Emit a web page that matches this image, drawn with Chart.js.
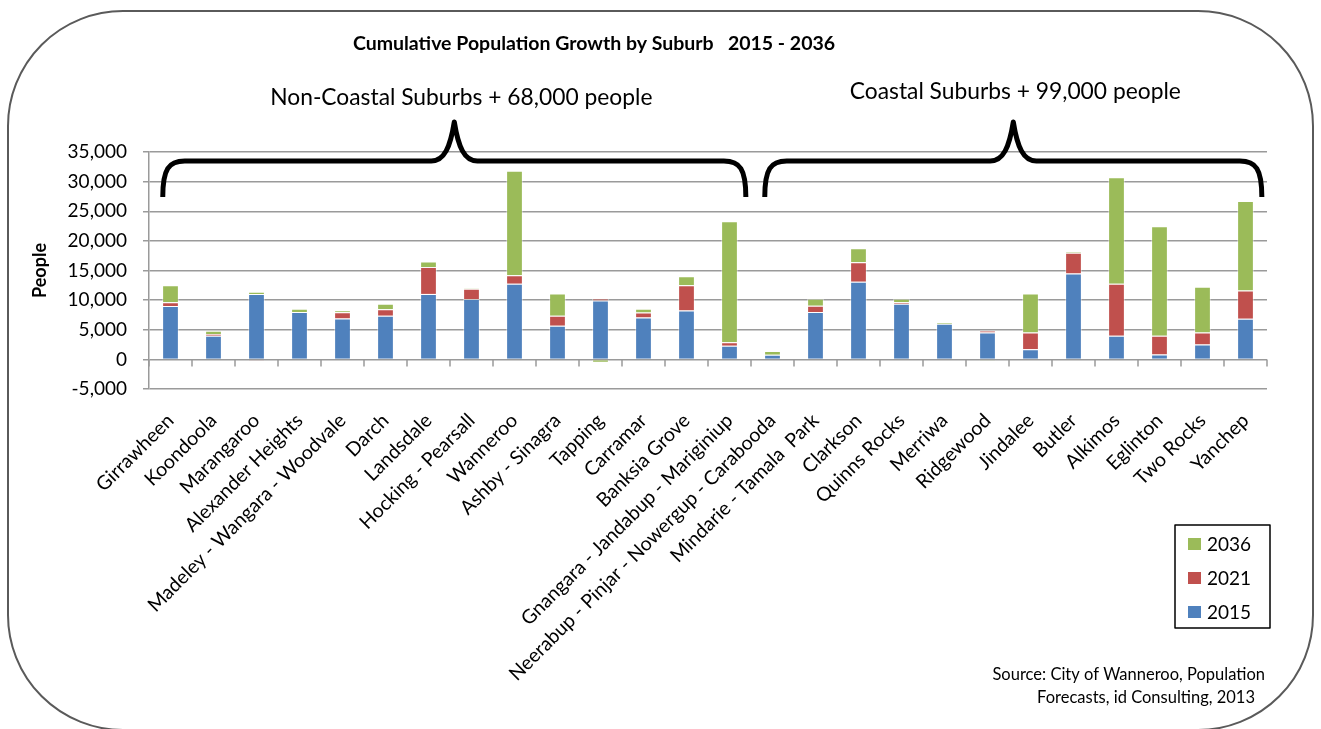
<!DOCTYPE html>
<html><head><meta charset="utf-8">
<script src="https://cdn.jsdelivr.net/npm/chart.js@4/dist/chart.umd.min.js"></script>
<style>html,body{margin:0;padding:0;background:#fff;overflow:hidden}#wrap{width:1321px;height:729px;position:relative}</style>
</head><body><div id="wrap"><canvas id="c" width="1321" height="729"></canvas></div>
<script>
const suburbs = ["Girrawheen","Koondoola","Marangaroo","Alexander Heights","Madeley - Wangara - Woodvale","Darch","Landsdale","Hocking - Pearsall","Wanneroo","Ashby - Sinagra","Tapping","Carramar","Banksia Grove","Gnangara - Jandabup - Mariginiup","Neerabup - Pinjar - Nowergup - Carabooda","Mindarie - Tamala  Park","Clarkson","Quinns Rocks","Merriwa","Ridgewood","Jindalee","Butler","Alkimos","Eglinton","Two Rocks","Yanchep"];
const pop2015 = [9000,4000,11050,8000,6900,7350,11050,10200,12750,5670,9940,7080,8260,2300,790,7980,13090,9380,6010,4550,1690,14490,3990,840,2530,6850];
const growth2021 = [650,300,-100,0,1070,1120,4550,1700,1460,1690,340,840,4270,570,0,1060,3310,280,0,280,2860,3490,8760,3150,2020,4780];
const growth2036 = [2850,550,350,550,280,900,900,100,17640,3760,-560,620,1510,20440,610,1180,2360,560,280,-80,6570,220,17980,18480,7700,15110];
const seriesNames = ["2015","2021","2036"];
const seriesColors = ["#4F81BD","#C0504D","#9BBB59"];
const yTickValues = [-5000,0,5000,10000,15000,20000,25000,30000,35000];
const chartTitle = "Cumulative Population Growth by Suburb   2015 - 2036";
const groupLabels = ["Non-Coastal Suburbs + 68,000 people","Coastal Suburbs + 99,000 people"];
const groupRanges = [[0,13],[14,25]];
const sourceLines = ["Source: City of Wanneroo, Population","Forecasts, id Consulting, 2013"];

const FONT = "Lato, 'Open Sans', sans-serif";
Chart.defaults.font.family = FONT;

const decor = {
  id: 'decor',
  beforeDraw(chart) {
    const ctx = chart.ctx;
    ctx.save();
    ctx.fillStyle = '#fff';
    ctx.fillRect(0,0,chart.width,chart.height);
    ctx.strokeStyle = '#5a5a5a';
    ctx.lineWidth = 2;
    ctx.beginPath();
    ctx.roundRect(8, 11, 1305, 719, 115);
    ctx.stroke();
    ctx.restore();
  },
  afterDraw(chart) {
    const ctx = chart.ctx;
    const xs = chart.scales.x, ys = chart.scales.y;
    const ca = chart.chartArea;
    const w = (ca.right - ca.left) / suburbs.length;
    ctx.save();
    // x tick marks at zero line
    const y0 = ys.getPixelForValue(0);
    ctx.strokeStyle = '#9a9a9a';
    ctx.lineWidth = 1.5;
    for (let i = 0; i <= suburbs.length; i++) {
      const x = xs.getPixelForValue(0) - w/2 + i*w;
      ctx.beginPath(); ctx.moveTo(x, y0); ctx.lineTo(x, y0 + 7); ctx.stroke();
    }
    // title
    ctx.fillStyle = '#000';
    ctx.textAlign = 'center';
    ctx.textBaseline = 'middle';
    ctx.font = "bold 19.5px " + FONT;
    ctx.fillText(chartTitle, 594, 44);
    // braces
    const yh = ca.top + 9, yb = ca.top + 45, yp = ca.top - 30;
    ctx.strokeStyle = '#000';
    ctx.lineWidth = 5;
    ctx.lineJoin = 'round';
    const textY = [98, 92];
    groupRanges.forEach((r, k) => {
      const x0 = xs.getPixelForValue(r[0]) - 0.18*w;
      const x1 = xs.getPixelForValue(r[1]) + 0.38*w;
      const xm = (x0 + x1) / 2;
      const rr = 22;
      ctx.beginPath();
      ctx.moveTo(x0, yb);
      ctx.bezierCurveTo(x0, yh + 8, x0 + 6, yh, x0 + rr, yh);
      ctx.lineTo(xm - 23, yh);
      ctx.bezierCurveTo(xm - 10, yh, xm - 4, yh - 14, xm, yp);
      ctx.bezierCurveTo(xm + 4, yh - 14, xm + 10, yh, xm + 23, yh);
      ctx.lineTo(x1 - rr, yh);
      ctx.bezierCurveTo(x1 - 6, yh, x1, yh + 8, x1, yb);
      ctx.stroke();
      ctx.font = "22.8px " + FONT;
      ctx.fillStyle = '#000';
      ctx.fillText(groupLabels[k], k === 0 ? xm + 7 : xm + 2, textY[k]);
    });
    // legend
    ctx.lineWidth = 1.5;
    ctx.strokeStyle = '#000';
    ctx.strokeRect(1175, 525, 95, 103);
    ctx.textAlign = 'left';
    ctx.font = "19px " + FONT;
    const rows = [544, 578, 612];
    for (let j = 0; j < 3; j++) {
      const di = 2 - j;
      const ds = chart.data.datasets[di];
      ctx.fillStyle = ds.backgroundColor;
      ctx.fillRect(1188, rows[j] - 6, 13, 12);
      ctx.fillStyle = '#000';
      ctx.fillText(ds.label, 1207, rows[j] + 1);
    }
    // source
    ctx.textAlign = 'right';
    ctx.font = "16.5px " + FONT;
    ctx.fillText(sourceLines[0], 1265, 675);
    ctx.fillText(sourceLines[1], 1255, 698);
    ctx.restore();
  }
};

const datasets = [pop2015, growth2021, growth2036].map((d, i) => ({
  label: seriesNames[i],
  data: d,
  backgroundColor: seriesColors[i],
  borderColor: 'rgba(255,255,255,0.45)',
  borderWidth: 1,
  categoryPercentage: 1,
  barPercentage: 0.39
}));

new Chart(document.getElementById('c'), {
  type: 'bar',
  data: { labels: suburbs, datasets },
  options: {
    responsive: false,
    animation: false,
    layout: { padding: { top: 152, right: 54, left: 0, bottom: 0 } },
    plugins: { legend: { display: false }, tooltip: { enabled: false }, title: { display: false } },
    scales: {
      x: {
        stacked: true,
        grid: { display: false, drawTicks: false },
        border: { display: false },
        ticks: { autoSkip: false, maxRotation: 45, minRotation: 45, color: '#000', font: { size: 19.5 }, padding: 20 },
        afterFit: s => { s.height = 340; s.paddingLeft = 0; s.paddingRight = 0; }
      },
      y: {
        stacked: true,
        min: yTickValues[0],
        max: yTickValues[yTickValues.length - 1],
        afterBuildTicks: s => { s.ticks = yTickValues.map(v => ({ value: v })); },
        ticks: { color: '#000', font: { size: 19 }, padding: 16, callback: v => v.toLocaleString('en-US') },
        grid: { color: '#9a9a9a', lineWidth: 1.5, tickLength: 6 },
        border: { display: true, color: '#9a9a9a', width: 1.5 },
        title: { display: true, text: 'People', color: '#000', font: { size: 18, weight: 'bold' }, padding: { top: 29, bottom: 0 } },
        afterFit: s => { s.width = 149; s.paddingTop = 0; s.paddingBottom = 0; }
      }
    }
  },
  plugins: [decor]
});
</script></body></html>
